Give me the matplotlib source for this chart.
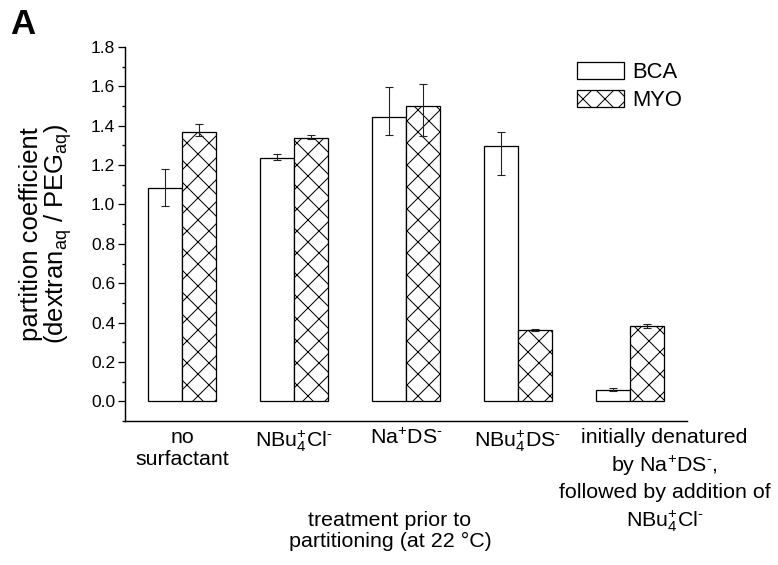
import numpy as np
import matplotlib
matplotlib.use('Agg')
import matplotlib.pyplot as plt

plt.rcParams['font.family'] = ['Liberation Sans', 'DejaVu Sans']
plt.rcParams['mathtext.fontset'] = 'custom'
plt.rcParams['mathtext.rm'] = 'Liberation Sans'
plt.rcParams['mathtext.it'] = 'Liberation Sans'
plt.rcParams['hatch.linewidth'] = 0.55

P = r'$^{\text{+}}$'
M = r'$^{\text{-}}$'
S4P = r'$_{\text{4}}^{\text{+}}$'

# 数据
groups = ['no\nsurfactant',
          'NBu' + S4P + 'Cl' + M,
          'Na' + P + 'DS' + M,
          'NBu' + S4P + 'DS' + M,
          'initially denatured\nby Na' + P + 'DS' + M + ',\nfollowed by addition of\nNBu' + S4P + 'Cl' + M]
bca = [1.083, 1.238, 1.444, 1.296, 0.059]
bca_hi = [1.178, 1.254, 1.595, 1.369, 0.070]
bca_lo = [0.993, 1.224, 1.354, 1.149, 0.051]
myo = [1.369, 1.340, 1.498, 0.361, 0.381]
myo_hi = [1.410, 1.351, 1.613, 0.365, 0.395]
myo_lo = [1.349, 1.332, 1.349, 0.357, 0.370]

DPI = 132
fig = plt.figure(figsize=(778 / DPI, 565 / DPI), dpi=DPI)
ax = fig.add_axes([0.1607, 0.2549, 0.7223, 0.6619])

x = np.arange(len(groups))
w = 0.3036
bca = np.array(bca)
myo = np.array(myo)
bca_err = [bca - np.array(bca_lo), np.array(bca_hi) - bca]
myo_err = [myo - np.array(myo_lo), np.array(myo_hi) - myo]

ekw = dict(elinewidth=0.6, capthick=0.6, ecolor='#222222')
ax.bar(x - w / 2, bca, w, color='white', edgecolor='black', linewidth=0.7,
       yerr=bca_err, capsize=2.4, error_kw=ekw, label='BCA', zorder=2)
ax.bar(x + w / 2, myo, w, color='white', edgecolor='black', linewidth=0.7,
       hatch='xx', yerr=myo_err, capsize=2.4, error_kw=ekw, label='MYO', zorder=2)

ax.set_xlim(-0.509, 4.509)
ax.set_ylim(-0.1, 1.8)
for s in ['top', 'right']:
    ax.spines[s].set_visible(False)
ax.spines['left'].set_linewidth(0.8)
ax.spines['bottom'].set_linewidth(0.8)

ax.set_yticks(np.arange(0, 1.81, 0.2))
ax.set_yticklabels(['%.1f' % v for v in np.arange(0, 1.81, 0.2)])
ax.set_yticks(np.arange(-0.1, 1.8, 0.1), minor=True)
ax.tick_params(axis='y', which='major', length=3.8, width=0.7, pad=1.6, labelsize=9.5)
ax.tick_params(axis='y', which='minor', length=1.9, width=0.7)

# 最后一个标签在图中向右偏移
ax.set_xticks([0, 1, 2, 3, 4.31])
labels = ax.set_xticklabels(groups, fontsize=11.7, linespacing=1.15)
labels[-1].set_linespacing(1.36)
ax.tick_params(axis='x', which='major', length=0, pad=4)

ax.set_ylabel('partition coefficient\n' + r'(dextran$_{aq}$ / PEG$_{aq}$)',
              fontsize=14, linespacing=1.0, labelpad=9)

fig.text(390 / 778, 1 - 531 / 565, 'treatment prior to\npartitioning (at 22 °C)',
         ha='center', va='center', fontsize=11.7, linespacing=1.15)

fig.text(10 / 778, 1 - 24 / 565, 'A', fontsize=19, fontweight='bold',
         ha='left', va='center')

ax.legend(loc='upper left', bbox_to_anchor=(0.804, 0.96), frameon=False,
          fontsize=12, handlelength=2.14, handleheight=0.82,
          handletextpad=0.36, labelspacing=0.3, borderpad=0, borderaxespad=0)

fig.savefig('out.png', dpi=DPI)
